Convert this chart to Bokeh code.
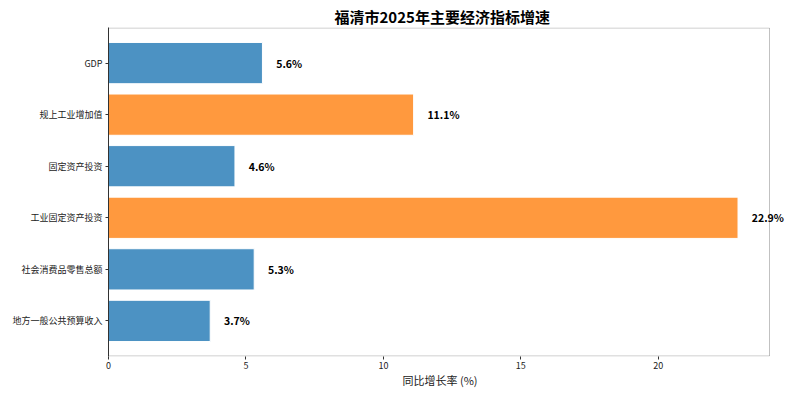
from bokeh.plotting import figure
from bokeh.models import FactorRange, Range1d, Label, FixedTicker, ColumnDataSource, BoxAnnotation, Title
from bokeh.embed import file_html
from bokeh.resources import INLINE

categories = ["GDP", "规上工业增加值", "固定资产投资", "工业固定资产投资", "社会消费品零售总额", "地方一般公共预算收入"]
values = [5.6, 11.1, 4.6, 22.9, 5.3, 3.7]
highlight = [False, True, False, True, False, False]
x_ticks = [0, 5, 10, 15, 20]
title_text = "福清市2025年主要经济指标增速"
x_label = "同比增长率 (%)"

FONT = "Noto Sans CJK SC"
BLUE = "#1f77b4"
ORANGE = "#ff7f0e"

colors = [ORANGE if h else BLUE for h in highlight]
source = ColumnDataSource(dict(cat=categories, val=values, color=colors))

AX_END = max(values) * 1.05          # visible axes box end
BOX_W = 661                          # px width of axes box
FRAME_W = 682                        # frame extended so outside labels are not clipped
FRAME_H = 329
PAD = 0.19
factors = list(reversed(categories))
inset = 0.5 * (len(factors) + 2 * PAD) / FRAME_H   # half a pixel, in category units

p = figure(frame_width=FRAME_W, frame_height=FRAME_H,
           output_backend="svg", toolbar_location=None,
           y_range=FactorRange(factors=factors, range_padding=PAD,
                               range_padding_units="absolute"),
           x_range=Range1d(0, AX_END * FRAME_W / BOX_W),
           min_border_left=108, min_border_right=4, min_border_top=27, min_border_bottom=38)

p.hbar(y="cat", right="val", left=0, height=0.8, source=source,
       fill_color="color", fill_alpha=0.8, line_color="white", line_width=1)

for c, v in zip(categories, values):
    ypos = factors.index(c) + 0.5  # synthetic coordinate of the factor
    p.add_layout(Label(x=v + 0.5, y=ypos, text=f"{v}%", text_font=FONT,
                       text_font_size="10.5px", text_font_style="bold", text_baseline="middle",
                       text_align="left", text_color="black"))

# axes box
p.add_layout(BoxAnnotation(left=0, right=AX_END, bottom=-PAD + inset,
                           top=len(factors) + PAD - inset, fill_alpha=0, fill_color=None,
                           line_color="#333333", line_width=1, level="overlay"))
p.outline_line_color = None

p.title.text = title_text
p.title.align = "left"
p.title.offset = 226
p.title.text_font = FONT
p.title.text_font_size = "15px"
p.title.text_font_style = "bold"
p.title.text_color = "black"
p.title.standoff = 2

p.add_layout(Title(text=x_label, align="left", offset=294, text_font=FONT,
                   text_font_size="11px", text_font_style="normal", text_color="#222222",
                   standoff=-4), "below")

p.xgrid.grid_line_color = None
p.ygrid.grid_line_color = None

p.xaxis.ticker = FixedTicker(ticks=x_ticks)
p.xaxis.minor_tick_line_color = None
p.xaxis.axis_line_color = None
for ax in (p.xaxis, p.yaxis):
    ax.major_label_text_font = FONT
    ax.major_label_text_font_size = "9px"
    ax.major_label_text_color = "#222222"
    ax.major_tick_line_color = "#333333"
    ax.major_tick_out = 3
    ax.major_tick_in = 0
    ax.major_label_standoff = 2
p.yaxis.axis_line_color = "#333333"
p.yaxis.major_label_standoff = 3

open("out.html", "w").write(file_html(p, INLINE))
